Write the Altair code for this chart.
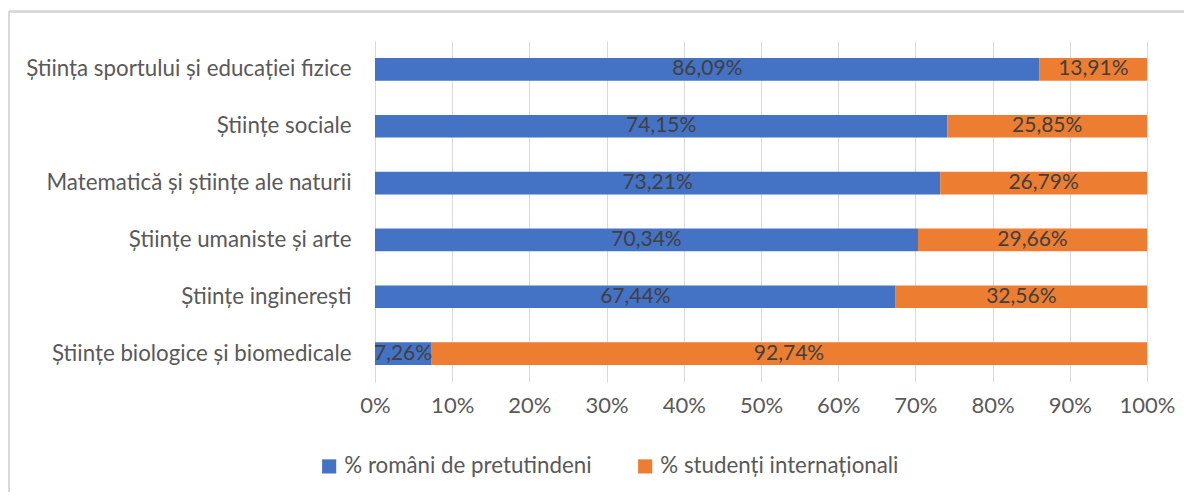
import altair as alt
import pandas as pd

categories = [
    "Știința sportului și educației fizice",
    "Științe sociale",
    "Matematică și științe ale naturii",
    "Științe umaniste și arte",
    "Științe inginerești",
    "Științe biologice și biomedicale",
]
series = ["% români de pretutindeni", "% studenți internaționali"]
romani = [86.09, 74.15, 73.21, 70.34, 67.44, 7.26]
internationali = [13.91, 25.85, 26.79, 29.66, 32.56, 92.74]
x_ticks = [0, 10, 20, 30, 40, 50, 60, 70, 80, 90, 100]

rows = []
for c, a, b in zip(categories, romani, internationali):
    rows.append({"cat": c, "serie": series[0], "val": a, "ord": 0})
    rows.append({"cat": c, "serie": series[1], "val": b, "ord": 1})
df = pd.DataFrame(rows)

font = "Lato"
txt = "#595959"

base = alt.Chart(df).encode(
    y=alt.Y("cat:N", sort=categories, title=None,
            scale=alt.Scale(paddingInner=0.6, paddingOuter=0.3),
            axis=alt.Axis(labelFontSize=22.3, labelColor=txt, labelFont=font,
                          ticks=False, labelPadding=24, domainColor="#d9d9d9",
                          labelLimit=400)),
)

bars = base.mark_bar().encode(
    x=alt.X("val:Q", stack="zero", title=None,
            scale=alt.Scale(domain=[0, 100], nice=False),
            axis=alt.Axis(values=x_ticks, labelExpr="datum.value + '%'",
                          labelFontSize=22, labelColor=txt, labelFont=font,
                          ticks=False, domain=False, gridColor="#d9d9d9",
                          labelPadding=13, labelFlush=False)),
    color=alt.Color("serie:N", sort=series,
                    scale=alt.Scale(domain=series, range=["#4472C4", "#ED7D31"]),
                    legend=alt.Legend(title=None, orient="none", direction="horizontal",
                                      legendX=-57, legendY=414, symbolType="square",
                                      symbolSize=200, symbolStrokeWidth=0,
                                      labelFontSize=22.3, labelColor=txt, labelFont=font,
                                      labelLimit=400, columnPadding=42, symbolOffset=0)),
    order=alt.Order("ord:Q"),
)

labels = base.transform_stack(
    stack="val", groupby=["cat"], as_=["v0", "v1"], sort=[alt.SortField("ord")]
).transform_calculate(
    mid="(datum.v0 + datum.v1) / 2",
    lab="replace(format(datum.val, '.2f'), '.', ',') + '%'",
).mark_text(fontSize=21, font=font, color="#404040").encode(
    x=alt.X("mid:Q"),
    text="lab:N",
)

border_top = alt.Chart(df).mark_rule(color="#d9d9d9", strokeWidth=1.5).encode(
    x=alt.value(-366), x2=alt.value(900), y=alt.value(-29.5)
)
border_left = alt.Chart(df).mark_rule(color="#d9d9d9", strokeWidth=1.5).encode(
    x=alt.value(-366), y=alt.value(-29.5), y2=alt.value(500)
)

chart = alt.layer(border_top, border_left, bars, labels).properties(
    width=772, height=341,
    autosize=alt.AutoSizeParams(type="none"),
    padding={"left": 367, "top": 33, "right": 37, "bottom": 110},
).configure_view(stroke=None)

chart.save("out.html", embed_options={"renderer": "svg", "actions": False})
